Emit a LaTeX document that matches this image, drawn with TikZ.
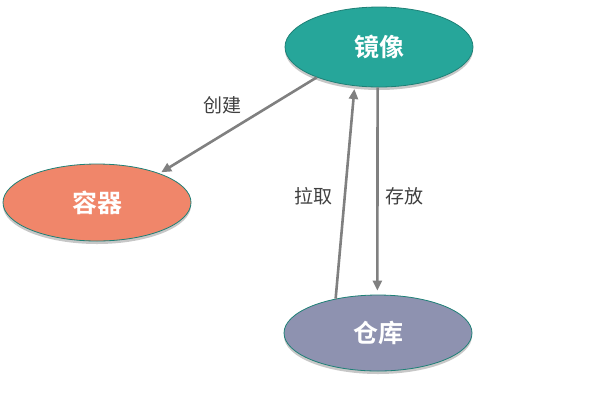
\documentclass[tikz,border=0pt]{standalone}
\usepackage{fontspec}
\newfontfamily\cjk{Noto Sans CJK SC}
\newfontfamily\cjkbold{Noto Sans CJK SC Bold}
\usetikzlibrary{shapes.geometric,arrows.meta,shadows}
\definecolor{tealfill}{RGB}{38,166,154}
\definecolor{salmonfill}{RGB}{240,134,106}
\definecolor{slatefill}{RGB}{142,146,176}
\definecolor{rimcol}{RGB}{30,128,118}
\definecolor{linkcol}{RGB}{128,128,128}
\definecolor{labelcol}{RGB}{64,64,64}
\tikzset{
  blob/.style={ellipse, draw=rimcol, line width=0.8pt, minimum width=188pt,
    inner sep=0pt, text=white, font=\cjkbold\fontsize{25}{25}\selectfont,
    drop shadow={shadow xshift=0pt, shadow yshift=-3pt, opacity=0.22, fill=black}},
  link/.style={draw=linkcol, line width=2.6pt,
    -{Triangle[length=10pt,width=9pt]}},
  tag/.style={text=labelcol, font=\cjk\fontsize{19}{19}\selectfont, inner sep=0pt}
}
\begin{document}
\begin{tikzpicture}[x=1pt,y=-1pt]
  \useasboundingbox (0,0) rectangle (593,400);
  \node[blob, fill=tealfill, minimum height=80pt] (jx) at (379,47) {镜像};
  \node[blob, fill=salmonfill, minimum height=77pt] (rq) at (97,202.5) {容器};
  \node[blob, fill=slatefill, minimum height=76pt] (ck) at (378,333) {仓库};

  \draw[link, shorten >=2pt] (jx.206) -- (rq.25);
  \draw[link, shorten >=3pt] (ck.141) -- (jx.238);
  \draw[link, shorten >=4pt] (jx.268.6) -- (ck.91);

  \node[tag] (lc) at (222,105) {创建};
  \node[tag] (ll) at (313,196) {拉取};
  \node[tag] (ls) at (404,196) {存放};
\end{tikzpicture}
\end{document}
